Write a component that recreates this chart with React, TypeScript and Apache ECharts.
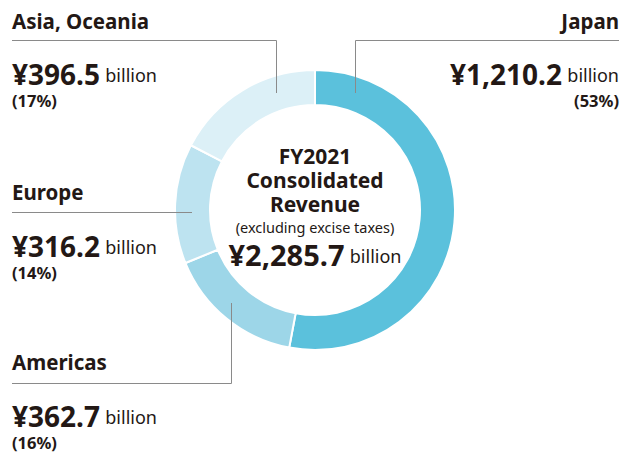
import React, { useEffect, useRef } from "react";
import * as echarts from "echarts";

const regions = ["Japan", "Americas", "Europe", "Asia, Oceania"];
const revenues = [1210.2, 362.7, 316.2, 396.5];
const shares = [53, 16, 14, 17];
const colors = ["#5bc1dc", "#9dd6e8", "#bde3f0", "#dcf0f7"];
const totalRevenue = "2,285.7";
const centerTitle = ["FY2021", "Consolidated", "Revenue"];
const centerNote = "(excluding excise taxes)";

const FONT = "'Noto Sans', 'Open Sans', sans-serif";
const INK = "#231815";
const LINE = "#8a8a8a";

function fmt(v: number): string {
  return v.toLocaleString("en-US", { minimumFractionDigits: 1, maximumFractionDigits: 1 });
}

const rich = {
  v: { fontSize: 28, fontWeight: "bold", fontFamily: FONT, fill: INK, verticalAlign: "bottom", lineHeight: 26 },
  b: { fontSize: 18, fontWeight: "normal", fontFamily: FONT, fill: INK, verticalAlign: "bottom", lineHeight: 26, padding: [0, 0, 4, 2] },
};

function labelBlock(i: number, x: number, yName: number, yVal: number, yPct: number, align: string) {
  return [
    {
      type: "text",
      x,
      y: yName,
      style: { text: regions[i], font: `bold 20.5px ${FONT}`, fill: INK, align, verticalAlign: "middle" },
    },
    {
      type: "text",
      x,
      y: yVal,
      style: { text: `{v|¥${fmt(revenues[i])}} {b|billion}`, rich, align, verticalAlign: "middle" },
    },
    {
      type: "text",
      x,
      y: yPct,
      style: { text: `(${shares[i]}%)`, font: `bold 16.5px ${FONT}`, fill: INK, align, verticalAlign: "middle" },
    },
  ];
}

function line(x1: number, y1: number, x2: number, y2: number) {
  return { type: "line", shape: { x1, y1, x2, y2 }, style: { stroke: LINE, lineWidth: 1 }, z: 10 };
}

export default function App() {
  const ref = useRef<HTMLDivElement>(null);
  useEffect(() => {
    if (!ref.current) return;
    const chart = echarts.init(ref.current, null, { renderer: "svg" });
    chart.setOption({
      animation: false,
      backgroundColor: "#ffffff",
      series: [
        {
          type: "pie",
          center: [315, 210],
          radius: [105, 140],
          startAngle: 90,
          clockwise: true,
          label: { show: false },
          labelLine: { show: false },
          silent: true,
          itemStyle: { borderColor: "#ffffff", borderWidth: 2 },
          data: regions.map((name, i) => ({ name, value: revenues[i], itemStyle: { color: colors[i] } })),
        },
      ],
      graphic: [
        // leader lines
        line(12, 40.5, 276.5, 40.5),
        line(276.5, 40.5, 276.5, 93),
        line(355.5, 40.5, 619, 40.5),
        line(355.5, 40.5, 355.5, 93),
        line(12, 212.5, 192, 212.5),
        line(231.5, 303, 231.5, 383.5),
        line(12, 383.5, 231.5, 383.5),
        // labels
        ...labelBlock(3, 12, 20.5, 74.5, 100.5, "left"),
        ...labelBlock(0, 619, 20.5, 74.5, 100.5, "right"),
        ...labelBlock(2, 12, 191.5, 246.5, 272.5, "left"),
        ...labelBlock(1, 12, 362, 416.5, 442.5, "left"),
        // center text
        ...centerTitle.map((t, k) => ({
          type: "text",
          x: 315,
          y: 155.5 + k * 24,
          style: { text: t, font: `bold 21px ${FONT}`, fill: INK, align: "center", verticalAlign: "middle" },
        })),
        {
          type: "text",
          x: 315,
          y: 227,
          style: { text: centerNote, font: `14.5px ${FONT}`, fill: INK, align: "center", verticalAlign: "middle" },
        },
        {
          type: "text",
          x: 315,
          y: 256,
          style: {
            text: `{v|¥${totalRevenue}} {b|billion}`,
            rich: {
              v: { ...rich.v, fontSize: 29 },
              b: rich.b,
            },
            align: "center",
            verticalAlign: "middle",
          },
        },
      ],
    });
    return () => chart.dispose();
  }, []);
  return <div ref={ref} style={{ position: "fixed", left: 0, top: 0, width: 629, height: 453 }} />;
}
